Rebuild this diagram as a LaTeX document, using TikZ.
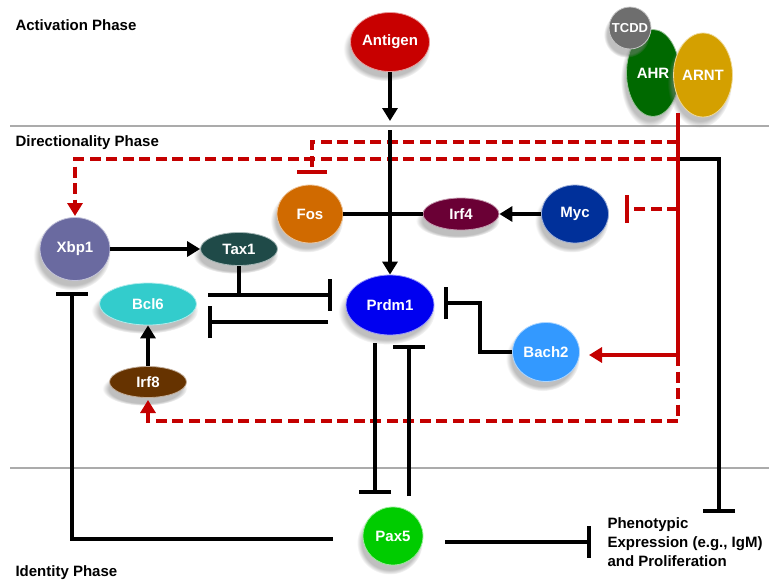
\documentclass[tikz,border=0pt]{standalone}
\usepackage{fontspec}
\setmainfont{Liberation Sans}
\usetikzlibrary{shapes.geometric,arrows.meta,shadows,fadings}

\definecolor{cAntigen}{RGB}{200,0,0}
\definecolor{cTcdd}{RGB}{110,110,110}
\definecolor{cAhr}{RGB}{0,105,0}
\definecolor{cArnt}{RGB}{212,160,0}
\definecolor{cFos}{RGB}{208,106,0}
\definecolor{cIrf}{RGB}{106,0,53}
\definecolor{cMyc}{RGB}{0,48,154}
\definecolor{cXbp}{RGB}{106,106,160}
\definecolor{cTax}{RGB}{31,74,72}
\definecolor{cBcl}{RGB}{51,204,204}
\definecolor{cPrdm}{RGB}{0,0,240}
\definecolor{cBach}{RGB}{51,153,255}
\definecolor{cIrfe}{RGB}{102,51,0}
\definecolor{cPax}{RGB}{0,204,0}
\definecolor{cRed}{RGB}{196,0,0}

\tikzset{
  gene/.style={ellipse, inner sep=0pt, fill=#1, draw=white!60!#1, line width=0.8pt,
    text=white, font=\fontsize{15}{17}\selectfont\bfseries,
    circular drop shadow={shadow xshift=-3pt, shadow yshift=-6pt, opacity=0.5}},
  link/.style={line width=3.8pt},
  tip/.style={-{Triangle[length=13pt,width=15pt]}},
  act/.style={link, tip},
  inh/.style={link, -{Bar[width=#1]}},
  inh/.default=32pt,
  redline/.style={draw=cRed, line width=3.8pt},
  reddash/.style={redline, dash pattern=on 11pt off 5.5pt},
  phase/.style={anchor=west, font=\fontsize{15}{17}\selectfont\bfseries},
  divider/.style={draw=black!33, line width=2.8pt},
}

\begin{document}
\begin{tikzpicture}[x=1pt,y=-1pt]
\useasboundingbox (0,0) rectangle (769,584);

% phases
\draw[divider] (10,126) -- (769,126);
\draw[divider] (10,468) -- (769,468);
\node[phase] (actph) at (12,25) {Activation Phase};
\node[phase] (dirph) at (12,143) {Directionality Phase};
\node[phase] (idph) at (12,573) {Identity Phase};

% genes
\node[gene=cAntigen, minimum width=74pt, minimum height=59pt] (antigen) at (390,42) {Antigen};
\node[gene=cAhr, minimum width=53pt, minimum height=87pt] (ahr) at (653,73) {AHR};
\node[gene=cArnt, minimum width=57pt, minimum height=84pt] (arnt) at (703,75) {ARNT};
\node[gene=cTcdd, minimum width=42pt, minimum height=42pt, font=\fontsize{13}{14}\selectfont\bfseries] (tcdd) at (630,28) {\makebox[0pt]{TCDD}};
\node[gene=cFos, minimum width=66pt, minimum height=58pt] (fos) at (310,214) {Fos};
\node[gene=cIrf, minimum width=76pt, minimum height=32pt] (irf4) at (461,214) {Irf4};
\node[gene=cMyc, minimum width=67pt, minimum height=58pt] (myc) at (575,214) {Myc};
\node[gene=cXbp, minimum width=70pt, minimum height=63pt] (xbp1) at (75,249) {Xbp1};
\node[gene=cTax, minimum width=77pt, minimum height=33pt] (tax1) at (239,249) {Tax1};
\node[gene=cBcl, minimum width=97pt, minimum height=42pt] (bcl6) at (148,304) {Bcl6};
\node[gene=cPrdm, minimum width=88pt, minimum height=60pt] (prdm1) at (390,305) {Prdm1};
\node[gene=cBach, minimum width=67pt, minimum height=59pt] (bach2) at (546,352) {Bach2};
\node[gene=cIrfe, minimum width=77pt, minimum height=31pt] (irf8) at (148,382) {Irf8};
\node[gene=cPax, minimum width=60pt, minimum height=58pt] (pax5) at (393,536) {Pax5};
\node[anchor=west, align=left, font=\fontsize{15}{19}\selectfont\bfseries] (pheno) at (604,542)
  {Phenotypic\\Expression (e.g., IgM)\\and Proliferation};

% free ends
\coordinate (agtip) at (390,121);
\coordinate (agtop) at (390,130);
\coordinate (taxa) at (208,295);
\coordinate (taxb) at (332,295);
\coordinate (prdout) at (328,322);
\coordinate (bclbar) at (208,322);
\coordinate (bachbar) at (444,303);
\coordinate (prddown) at (375,343);
\coordinate (paxbar) at (375,494);
\coordinate (paxup) at (409,496);
\coordinate (prdbar) at (409,345);
\coordinate (paxleft) at (333,539);
\coordinate (xbpbar) at (72,292);
\coordinate (paxright) at (445,542);
\coordinate (phenbar) at (591,542);
\coordinate (ahrout) at (680,159);
\coordinate (phenbarb) at (719,513);
\coordinate (ahrtip) at (678,113);
\coordinate (redknee) at (678,355);
\coordinate (bachin) at (589,355);
\coordinate (redfoot) at (678,421);
\coordinate (irfin) at (148,400);
\coordinate (redfos) at (678,142);
\coordinate (fosbar) at (312,174);
\coordinate (redxbp) at (678,159);
\coordinate (xbpin) at (75,216);
\coordinate (redmyc) at (678,209);
\coordinate (mycbar) at (625,209);

% activation and TCDD signal
\draw[redline] (ahrtip) -- (redknee);
\draw[redline, tip] (redknee) -- (bachin);
\draw[reddash, tip] (redknee) -- (redfoot) -| (irfin);
\draw[reddash, tip] (redxbp) -| (xbpin);
\draw[reddash, -{Bar[width=30pt]}] (redfos) -| (fosbar);
\draw[reddash, -{Bar[width=28pt]}] (redmyc) -- (mycbar);
\draw[inh] (ahrout) -| (phenbarb);

\draw[act] (antigen.south) -- (agtip);
\draw[act] (agtop) -- (prdm1.north);

% directionality
\draw[link] (fos.east) -- (irf4.west);
\draw[act] (myc.west) -- (irf4.east);
\draw[act] (xbp1.east) -- (tax1.west);
\draw[link] (tax1.south) -- (tax1.south |- taxa);
\draw[inh] (taxa) -- (taxb);
\draw[inh] (prdout) -- (bclbar);
\draw[inh] (bach2.west) -- ++(-32,0) |- (bachbar);
\draw[act] (irf8.north) -- (bcl6.south);

% identity
\draw[inh] (prddown) -- (paxbar);
\draw[inh] (paxup) -- (prdbar);
\draw[inh] (paxleft) -| (xbpbar);
\draw[inh] (paxright) -- (phenbar);
\end{tikzpicture}
\end{document}
